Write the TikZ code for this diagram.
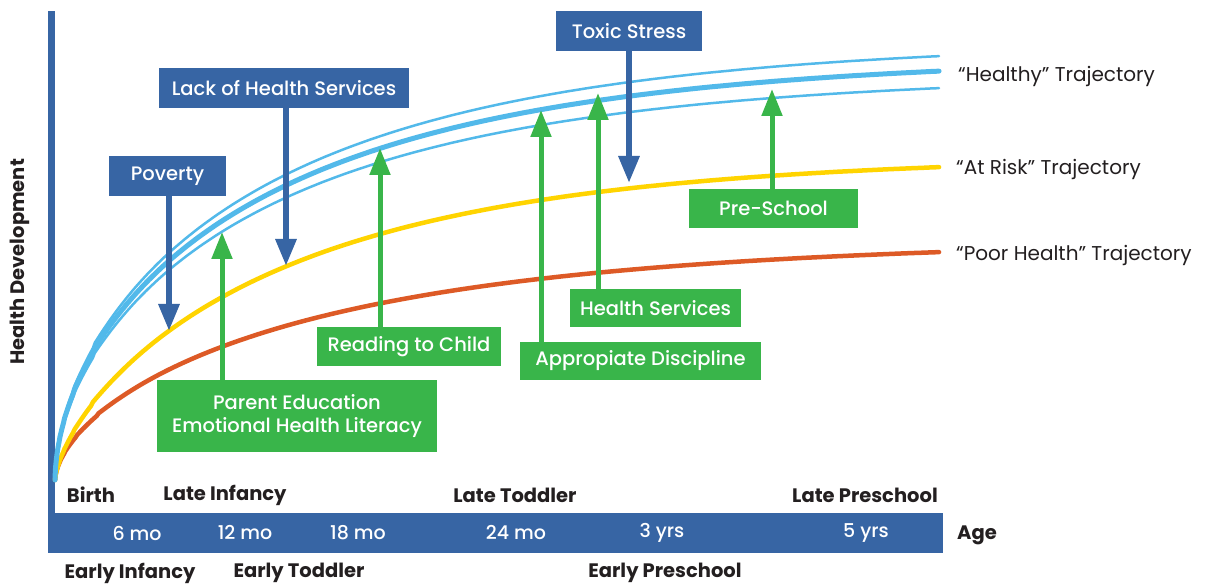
\documentclass[tikz,border=0pt]{standalone}
\usepackage{fontspec}
\setmainfont{Poppins}
\newfontfamily\medfont{Poppins Medium}
\usetikzlibrary{arrows.meta}
\definecolor{navy}{HTML}{3765A4}
\definecolor{leaf}{HTML}{39B54A}
\definecolor{sky}{HTML}{52B9EA}
\definecolor{sun}{HTML}{FFD400}
\definecolor{rust}{HTML}{DD5A26}
\definecolor{ink}{HTML}{231F20}
\begin{document}
\begin{tikzpicture}[x=1pt,y=-1pt,
  factor/.style={inner sep=0pt, text=white, font=\medfont\fontsize{19.5}{23}\selectfont, align=center},
  risk/.style={factor, fill=navy},
  help/.style={factor, fill=leaf},
  push/.style={draw=navy, line width=6pt, -{Triangle[width=20pt,length=27pt]}},
  lift/.style={draw=leaf, line width=5pt, -{Triangle[width=20pt,length=27pt]}},
  stage/.style={inner sep=0pt, text=ink, font=\bfseries\fontsize{19.5}{22}\selectfont},
  tick/.style={inner sep=0pt, text=white, font=\medfont\fontsize{19}{22}\selectfont},
  traj/.style={inner sep=0pt, anchor=west, text=ink, font=\fontsize{20}{23}\selectfont},
  curve/.style={line cap=round, line join=round}
]
\useasboundingbox[fill=white] (0,0) rectangle (1205,585);

% axes
\fill[navy] (48,11) rectangle (55,553);
\node[fill=navy, minimum width=895pt, minimum height=40pt, inner sep=0pt] (band) at (495.5,533) {};

% trajectories: y = 480 - H * ((1-exp(-k t))/(1-exp(-k)))^p, with t = s^2 and x = 55 + 888 t
\draw[curve, rust, line width=4.5pt] (55,480) -- plot[domain=0.02:1, samples=200, variable=\s]
  ({55+888*\s*\s}, {480 - 228*pow(abs(1-exp(-2.5*\s*\s))/(1-exp(-2.5))+0.00001,0.6)});
\draw[curve, sun, line width=4.5pt] (55,480) -- plot[domain=0.02:1, samples=200, variable=\s]
  ({55+888*\s*\s}, {480 - 313*pow(abs(1-exp(-3*\s*\s))/(1-exp(-3))+0.00001,0.68)});
\draw[curve, sky, line width=2.5pt] (55,480) -- plot[domain=0.02:1, samples=200, variable=\s]
  ({55+888*\s*\s}, {480 - 392*pow(abs(1-exp(-2.8*\s*\s))/(1-exp(-2.8))+0.00001,0.55)});
\draw[curve, sky, line width=5pt] (55,480) -- plot[domain=0.02:1, samples=200, variable=\s]
  ({55+888*\s*\s}, {480 - 409*pow(abs(1-exp(-2.8*\s*\s))/(1-exp(-2.8))+0.00001,0.55)});
\draw[curve, sky, line width=2.5pt] (55,480) -- plot[domain=0.02:1, samples=200, variable=\s]
  ({55+888*\s*\s}, {480 - 424*pow(abs(1-exp(-2.8*\s*\s))/(1-exp(-2.8))+0.00001,0.55)});

% trajectory labels
\node[traj] (lhealthy) at (958,76) {“Healthy” Trajectory};
\node[traj] (lrisk) at (956,169) {“At Risk” Trajectory};
\node[traj] (lpoor) at (956,255) {“Poor Health” Trajectory};

% risk factors
\node[risk, minimum width=146pt, minimum height=40pt] (toxic) at (629,31) {Toxic Stress};
\node[risk, minimum width=250pt, minimum height=40pt] (lack) at (284,88) {Lack of Health Services};
\node[risk, minimum width=117pt, minimum height=40pt] (poverty) at (167.5,176) {Poverty};
\coordinate (toxicT) at (629,183);
\coordinate (lackT) at (286,266);
\coordinate (povertyT) at (169,331);
\draw[push] (toxic.south -| toxicT) -- (toxicT);
\draw[push] (lack.south -| lackT) -- (lackT);
\draw[push] (poverty.south -| povertyT) -- (povertyT);

% protective factors
\node[help, minimum width=169pt, minimum height=39pt] (pre) at (773.5,208.5) {Pre-School};
\node[help, minimum width=171pt, minimum height=38pt] (hserv) at (655.5,308) {Health Services};
\node[help, minimum width=241pt, minimum height=38pt] (disc) at (640.5,361) {Appropiate Discipline};
\node[help, minimum width=184pt, minimum height=39pt] (read) at (409,346.5) {Reading to Child};
\node[help, minimum width=280pt, minimum height=72pt] (parent) at (297,416) {Parent Education\\Emotional Health Literacy};
\coordinate (preT) at (772,89);
\coordinate (hservT) at (598,93);
\coordinate (discT) at (541,110);
\coordinate (readT) at (380,148);
\coordinate (parentT) at (222,232);
\draw[lift] (pre.north -| preT) -- (preT);
\draw[lift] (hserv.north -| hservT) -- (hservT);
\draw[lift] (disc.north -| discT) -- (discT);
\draw[lift] (read.north -| readT) -- (readT);
\draw[lift] (parent.north -| parentT) -- (parentT);

% age ticks
\node[tick] (m6) at (137,533) {6 mo};
\node[tick] (m12) at (245,533) {12 mo};
\node[tick] (m18) at (358,533) {18 mo};
\node[tick] (m24) at (516,533) {24 mo};
\node[tick] (y3) at (662,533) {3 yrs};
\node[tick] (y5) at (866,533) {5 yrs};
\node[stage, anchor=west] (age) at (957,535) {Age};

% developmental stages
\node[stage] (birth) at (91,495) {Birth};
\node[stage] (linf) at (225,495) {Late Infancy};
\node[stage] (ltod) at (515,495) {Late Toddler};
\node[stage] (lpre) at (865,495) {Late Preschool};
\node[stage] (einf) at (130,573) {Early Infancy};
\node[stage] (etod) at (299,573) {Early Toddler};
\node[stage] (epre) at (665,573) {Early Preschool};

% vertical axis title
\node[stage, rotate=90] (hdev) at (20,262) {Health Development};
\end{tikzpicture}
\end{document}
